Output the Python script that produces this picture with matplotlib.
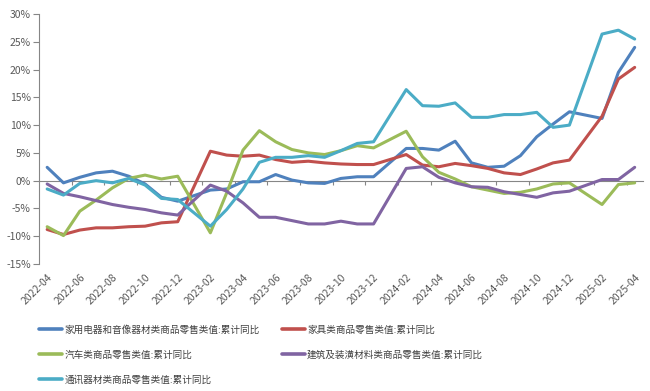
import numpy as np
import pandas as pd
import matplotlib
matplotlib.use('Agg')
import matplotlib.pyplot as plt
from matplotlib.ticker import FuncFormatter

plt.rcParams['font.family'] = ['Noto Sans CJK SC', 'DejaVu Sans']

# monthly categories, January has no data (Jan-Feb reported together)
months = list(pd.period_range('2022-04', '2025-04', freq='M').strftime('%Y-%m'))
nan = np.nan

appliances = [2.4, -0.4, 0.6, 1.4, 1.7, 0.8, -0.6, -3.0, -3.7, nan,
              -1.7, -1.5, -0.2, -0.2, 1.1, 0.1, -0.4, -0.5, 0.4, 0.7, 0.7, nan,
              5.8, 5.8, 5.5, 7.1, 3.2, 2.4, 2.6, 4.5, 7.9, 10.2, 12.4, nan,
              11.2, 19.5, 24.0]
furniture = [-8.8, -9.7, -8.9, -8.5, -8.5, -8.3, -8.2, -7.6, -7.4, nan,
             5.3, 4.6, 4.4, 4.6, 3.8, 3.3, 3.5, 3.2, 3.0, 2.9, 2.9, nan,
             4.7, 2.8, 2.5, 3.1, 2.7, 2.2, 1.4, 1.1, 2.1, 3.2, 3.7, nan,
             11.6, 18.3, 20.4]
autos = [-8.3, -9.9, -5.5, -3.5, -1.3, 0.4, 1.0, 0.3, 0.8, nan,
         -9.4, -2.2, 5.5, 9.0, 7.0, 5.6, 5.0, 4.7, 5.4, 6.3, 5.9, nan,
         8.9, 4.3, 1.5, 0.3, -1.1, -1.7, -2.3, -2.1, -1.5, -0.6, -0.4, nan,
         -4.3, -0.7, -0.4]
building = [-0.6, -2.3, -2.9, -3.6, -4.3, -4.8, -5.2, -5.8, -6.2, nan,
            -0.8, -1.9, -4.0, -6.6, -6.6, -7.2, -7.8, -7.8, -7.3, -7.8, -7.8, nan,
            2.2, 2.5, 0.6, -0.4, -1.1, -1.2, -2.0, -2.5, -3.0, -2.2, -1.9, nan,
            0.2, 0.2, 2.4]
telecom = [-1.5, -2.6, -0.5, 0.0, -0.4, 0.4, -0.8, -3.2, -3.4, nan,
           -8.2, -5.2, -1.5, 3.3, 4.2, 4.2, 4.5, 4.2, 5.4, 6.7, 7.0, nan,
           16.4, 13.5, 13.4, 14.0, 11.4, 11.4, 11.9, 11.9, 12.3, 9.6, 10.0, nan,
           26.4, 27.1, 25.5]

series = [
    ('家用电器和音像器材类商品零售类值:累计同比', appliances, '#4F81BD'),
    ('家具类商品零售类值:累计同比', furniture, '#C0504D'),
    ('汽车类商品零售类值:累计同比', autos, '#9BBB59'),
    ('建筑及装潢材料类商品零售类值:累计同比', building, '#8064A2'),
    ('通讯器材类商品零售类值:累计同比', telecom, '#4BACC6'),
]

fig = plt.figure(figsize=(6.5, 3.91), dpi=100)
ax = fig.add_axes([0.06, 0.325, 0.929, 0.639])

x = np.arange(len(months))
lines = {}
for name, vals, color in series:
    v = np.array(vals, dtype=float)
    ok = ~np.isnan(v)
    ln, = ax.plot(x[ok], v[ok], color=color, lw=2.2, label=name,
                  solid_joinstyle='round', solid_capstyle='round')
    lines[name] = ln

ymin, ymax = -15, 30
ax.set_ylim(ymin, ymax)
ax.set_xlim(-0.5, len(months) - 0.5)
ax.set_yticks(np.arange(-15, 31, 5))
ax.yaxis.set_major_formatter(FuncFormatter(lambda v, p: f'{v:.0f}%'))

axis_grey = '#868686'
for s in ['top', 'right', 'bottom']:
    ax.spines[s].set_visible(False)
ax.spines['left'].set_color(axis_grey)
ax.tick_params(axis='y', length=4, color=axis_grey, labelsize=7.5,
               labelcolor='#595959', pad=2)

# labels at the bottom, every other month
ax.set_xticks(x[::2])
ax.set_xticklabels(months[::2], rotation=45, ha='right', rotation_mode='anchor',
                   fontsize=7.5, color='#595959')
ax.tick_params(axis='x', length=0, pad=6)

# category axis line crossing at 0
zero_ax = ax.secondary_xaxis((0 - ymin) / (ymax - ymin))
zero_ax.spines['bottom'].set_color(axis_grey)
zero_ax.set_xticks(x[1:-1:2] + 0.5)
zero_ax.tick_params(axis='x', length=3, color=axis_grey, labelbottom=False)

order = [0, 2, 4, 1, 3]
handles = [lines[series[i][0]] for i in order]
labels = [series[i][0] for i in order]
leg = fig.legend(handles, labels, ncol=2, loc='upper left',
                 bbox_to_anchor=(0.054, 0.178), frameon=False,
                 fontsize=6.9, handlelength=2.4, handletextpad=0.25,
                 columnspacing=2.3, labelspacing=1.6, borderaxespad=0)
for t in leg.get_texts():
    t.set_color('#404040')
for h in leg.legend_handles:
    h.set_linewidth(2.6)

fig.savefig('out.png', dpi=100)
